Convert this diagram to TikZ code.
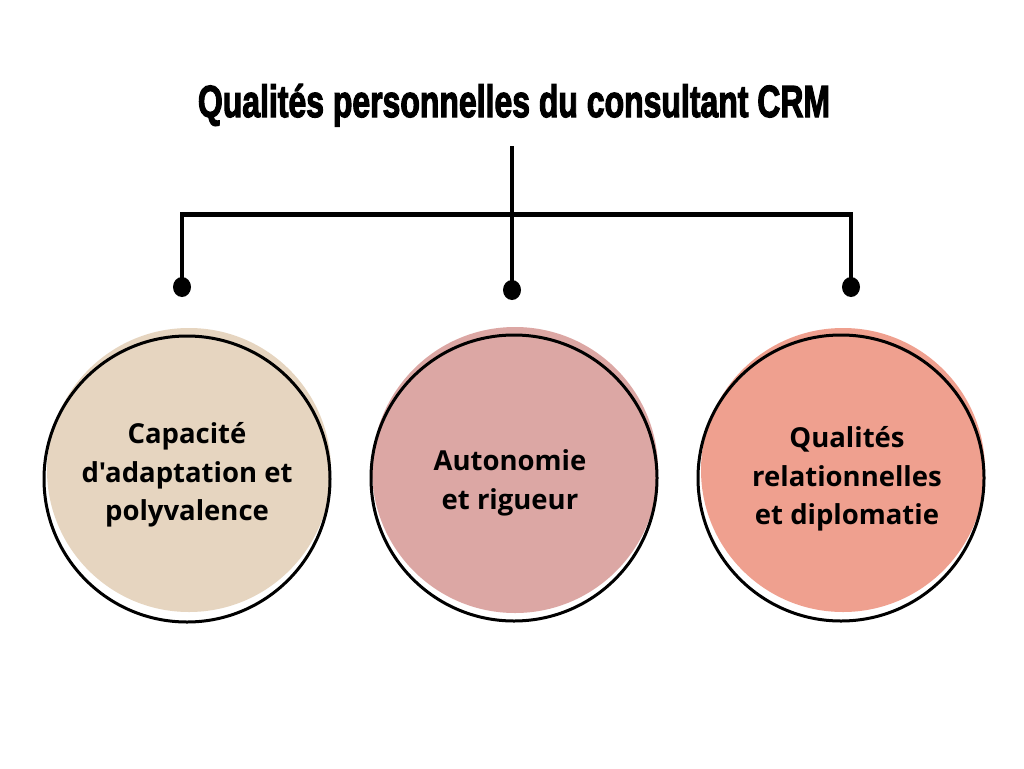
\documentclass[tikz,border=0pt]{standalone}
\usepackage{fontspec}
\setmainfont{Open Sans}[Ligatures=TeXOff]
\newfontfamily\titlefont{Liberation Sans}[BoldFeatures={FakeBold=3}]
\definecolor{beige}{RGB}{230,213,192}
\definecolor{rosew}{RGB}{220,167,164}
\definecolor{salmon}{RGB}{239,160,143}
\begin{document}
\begin{tikzpicture}[x=1pt,y=-1pt,
  ring/.style={circle,draw=black,line width=3pt,minimum size=286pt,inner sep=0pt},
  label/.style={font=\fontsize{27.5}{38.5}\selectfont\bfseries,align=center,text=black},
  stem/.style={line width=3.5pt},
  bar/.style={line width=5pt},
  knob/.style={fill=black}]
\useasboundingbox (0,0) rectangle (1024,768);
\fill[white] (0,0) rectangle (1024,768);
% title
\node[anchor=base,inner sep=0pt] (title) at (514,117)
  {\resizebox{632pt}{33pt}{\titlefont\bfseries Qualités personnelles du consultant CRM}};
% connector coordinates
\coordinate (top) at (512,146);
\coordinate (jl) at (182,214);
\coordinate (jm) at (512,214);
\coordinate (jr) at (851,214);
\coordinate (dl) at (182,287);
\coordinate (dm) at (512,290);
\coordinate (dr) at (851,287);
\draw[bar] ([xshift=-1.75pt]jl) -- ([xshift=1.75pt]jr);
\draw[stem] (top) -- (dm);
\draw[stem] ([yshift=-2pt]jl) -- (dl);
\draw[stem] ([yshift=-2pt]jr) -- (dr);
\fill[knob] (dl) ellipse (9pt and 10pt);
\fill[knob] (dm) ellipse (9pt and 10pt);
\fill[knob] (dr) ellipse (9pt and 10pt);
% circles: offset fill then outline
\fill[beige] (189,470) circle (142pt);
\fill[rosew] (515,470) circle (143pt);
\fill[salmon] (843,470) circle (142pt);
\node[ring] (c1) at (187,479) {};
\node[ring] (c2) at (514,478) {};
\node[ring] (c3) at (841,478) {};
% labels
\node[label] (t1) at (187,475) {Capacité\\d'adaptation et\\polyvalence};
\node[label] (t2) at (510,483) {Autonomie\\et rigueur};
\node[label] (t3) at (847,479) {Qualités\\relationnelles\\et diplomatie};
\end{tikzpicture}
\end{document}
